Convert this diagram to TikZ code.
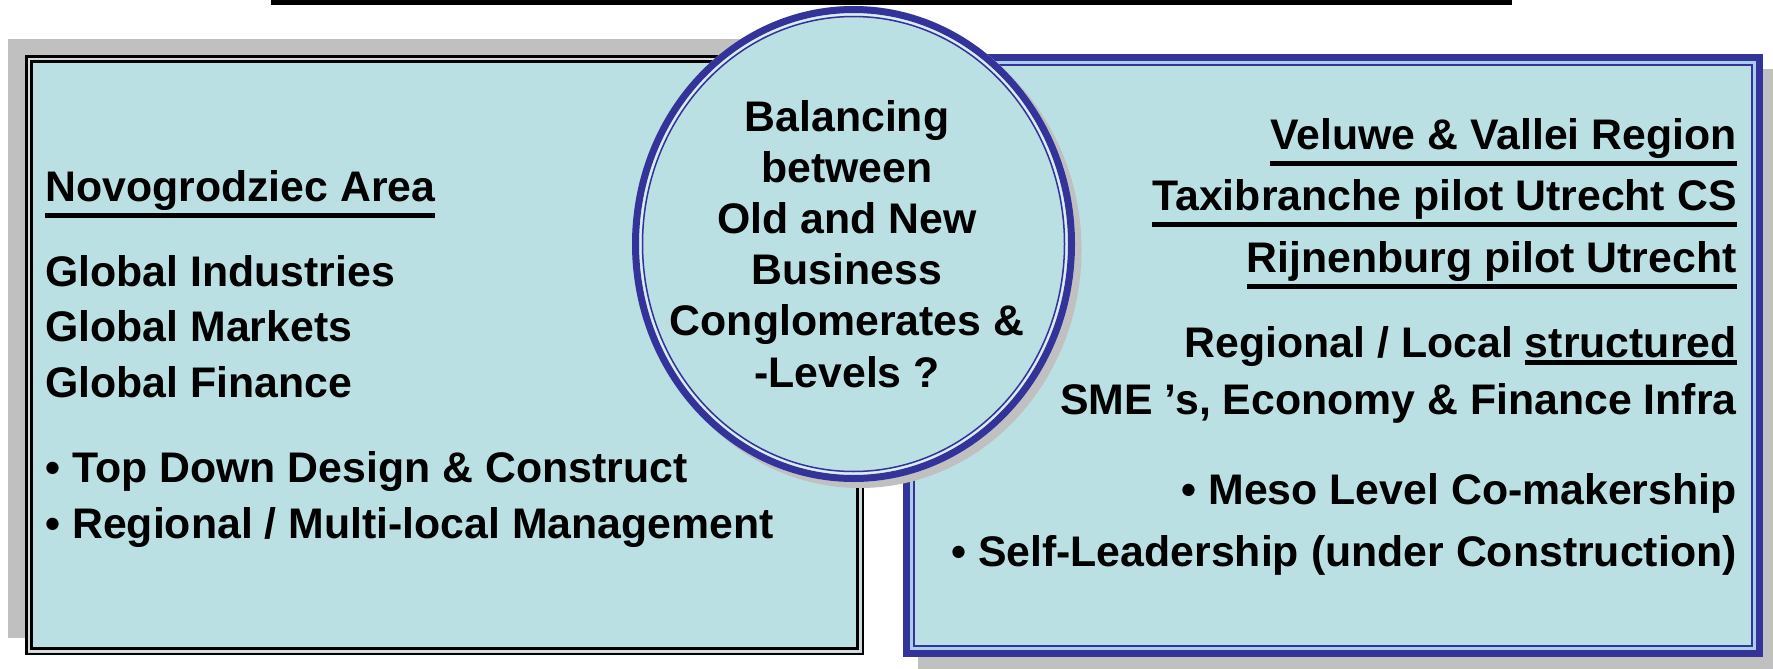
\documentclass[tikz,border=0pt]{standalone}
\usepackage{fontspec}
\setmainfont{Liberation Sans}
\definecolor{paneblue}{RGB}{187,224,227}
\definecolor{rimblue}{RGB}{51,51,153}
\definecolor{rimlight}{RGB}{170,205,235}
\definecolor{dropgray}{RGB}{192,192,192}
\newcommand\undl[1]{\vtop{\hbox{#1}\kern1.5pt\hrule height2.4pt}}

\begin{document}
\begin{tikzpicture}[x=0.5pt,y=-0.5pt,
    txt/.style={font=\fontsize{21.4}{25}\selectfont\bfseries,inner sep=0pt}]
    \useasboundingbox (0,0) rectangle (1773,669);
    \draw[line width=2.3pt] (271,2.3) -- (1512,2.3);

    % left panel
    \fill[dropgray] (8,39) rectangle (847,638);
    \fill[paneblue] (25,55) rectangle (864,655);
    \draw[line width=1.25pt] (26.25,56.25) rectangle (862.75,653.75);
    \draw[white!70!gray,line width=1pt] (29,59) rectangle (860,651);
    \draw[line width=1.25pt] (31.5,61.5) rectangle (857.5,648.5);

    % right panel
    \fill[dropgray] (918,69) rectangle (1780,680);
    \fill[paneblue] (903,54) rectangle (1763,657);
    \draw[rimblue,line width=3.5pt] (906.5,57.5) rectangle (1759.5,653.5);
    \draw[rimlight,line width=1.5pt] (911.5,62.5) rectangle (1754.5,648.5);
    \draw[rimblue,line width=1pt] (914,65) rectangle (1752,646);

    % centre disc
    \fill[dropgray] (860,250) ellipse [x radius=221.5,y radius=238];
    \fill[paneblue] (853.5,244) ellipse [x radius=221.5,y radius=238];
    \draw[rimblue,line width=3.5pt] (853.5,244) ellipse [x radius=218,y radius=234.5];
    \draw[white!60!rimlight,line width=1pt] (853.5,244) ellipse [x radius=213,y radius=229.5];
    \draw[rimblue,line width=0.75pt] (853.5,244) ellipse [x radius=211,y radius=227.5];

    \foreach \t [count=\k] in {Balancing, between, Old and New, Business, Conglomerates \&, -Levels ?}
      \node[txt,anchor=base] (hub\k) at (847,{131+51.2*(\k-1)}) {\t};

    \node[txt,anchor=base west] (area) at (45,201) {\undl{Novogrodziec Area}};
    \foreach \t [count=\k] in {Global Industries, Global Markets, Global Finance}
      \node[txt,anchor=base west] (glob\k) at (45,{286+55.5*(\k-1)}) {\t};
    \node[txt,anchor=base west] (lft1) at (45,482) {• Top Down Design \& Construct};
    \node[txt,anchor=base west] (lft2) at (45,538) {• Regional / Multi-local Management};

    \node[txt,anchor=base east] (site1) at (1737,149) {\undl{Veluwe \& Vallei Region}};
    \node[txt,anchor=base east] (site2) at (1737,210) {\undl{Taxibranche pilot Utrecht CS}};
    \node[txt,anchor=base east] (site3) at (1737,272) {\undl{Rijnenburg pilot Utrecht}};
    \node[txt,anchor=base east] (sme1) at (1737,357) {Regional / Local \undl{structured}\ };
    \node[txt,anchor=base east] (sme2) at (1737,414) {SME ’s, Economy \& Finance Infra};
    \node[txt,anchor=base east] (rgt1) at (1737,504) {• Meso Level Co-makership};
    \node[txt,anchor=base east] (rgt2) at (1737,566) {• Self-Leadership (under Construction)};
  \end{tikzpicture}
\end{document}
